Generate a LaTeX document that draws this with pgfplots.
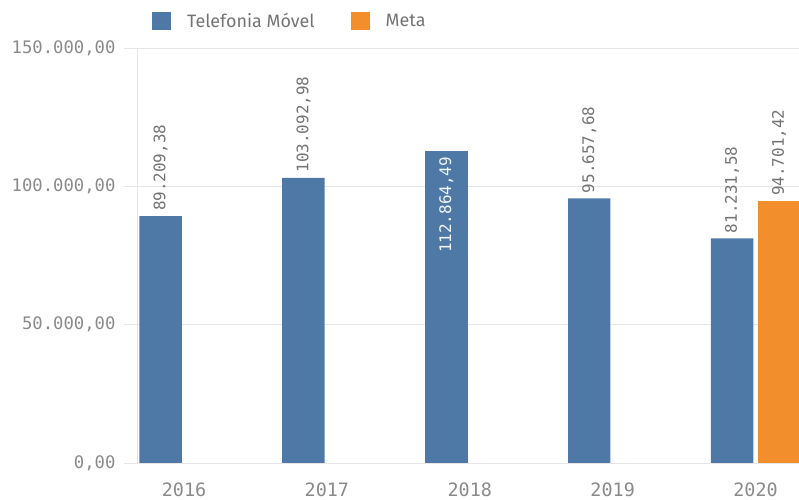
\documentclass[border=0pt]{standalone}
\usepackage{fontspec}
\setmainfont{Fira Sans}
\setmonofont{DejaVu Sans Mono}
\usepackage{pgfplots}
\usepackage{pgfplotstable}
\pgfplotsset{compat=1.18}
\definecolor{cblue}{HTML}{4E79A7}
\definecolor{corange}{HTML}{F28E2B}
\definecolor{tickgray}{HTML}{8A8A8A}
\definecolor{labgray}{HTML}{747474}
\definecolor{gridgray}{HTML}{E6E6E6}
\pgfplotstableread{
x y label
0 89209.38 89.209,38
1 103092.98 103.092,98
3 95657.68 95.657,68
4 81231.58 81.231,58
}\tblout
\pgfplotstableread{
x y label
2 112864.49 112.864,49
}\tblin
\pgfplotstableread{
x y label
4 94701.42 94.701,42
}\tblmeta
\begin{document}
\begin{tikzpicture}
\useasboundingbox (0,0) rectangle (799bp,500bp);
\begin{axis}[
  at={(137bp,37bp)}, anchor=south west,
  scale only axis, width=662bp, height=415bp,
  xmin=-0.329, xmax=4.304, ymin=0, ymax=150000,
  scaled y ticks=false,
  axis x line*=bottom, axis y line*=left,
  axis line style={gridgray, line width=0.8bp},
  ymajorgrids, grid style={gridgray, line width=0.8bp},
  ytick={0,50000,100000,150000},
  yticklabels={{0,00},{50.000,00},{100.000,00},{150.000,00}},
  xtick={0,1,2,3,4}, xticklabels={2016,2017,2018,2019,2020},
  tick align=outside, major tick length=13bp,
  ytick style={gridgray, line width=0.8bp},
  xtick style={draw=none},
  yticklabel style={font=\ttfamily\fontsize{17.3}{17.3}\selectfont, text=tickgray, xshift=-5bp},
  xticklabel style={font=\ttfamily\fontsize{18.5}{18.5}\selectfont, text=tickgray, yshift=-3bp},
  ybar, bar width=0.297,
  point meta=explicit symbolic,
  legend style={at={(0.0227,1.065)}, anchor=west, draw=none, fill=none,
    inner sep=0pt, font=\fontsize{18}{18}\selectfont, text=labgray,
    legend columns=2,
    /tikz/every odd column/.append style={column sep=14bp},
    /tikz/every even column/.append style={column sep=34bp}},
  legend image code/.code={\fill[#1, draw=none] (0bp,-9bp) rectangle (19bp,9bp);},
  every node near coord/.append style={font=\ttfamily\fontsize{16}{16}\selectfont, text=labgray, rotate=90, anchor=west, inner sep=5bp},
]
\addplot[fill=cblue, draw=none, bar shift=-0.164, nodes near coords] table[x=x, y=y, meta=label]{\tblout};
\addlegendentry{Telefonia Móvel}
\addplot[fill=corange, draw=none, bar shift=0.164, nodes near coords] table[x=x, y=y, meta=label]{\tblmeta};
\addlegendentry{Meta}
\addplot[fill=cblue, draw=none, bar shift=-0.164, nodes near coords, forget plot,
  every node near coord/.append style={anchor=east, text=white!92!cblue, inner sep=6bp}] table[x=x, y=y, meta=label]{\tblin};
\end{axis}
\end{tikzpicture}
\end{document}
